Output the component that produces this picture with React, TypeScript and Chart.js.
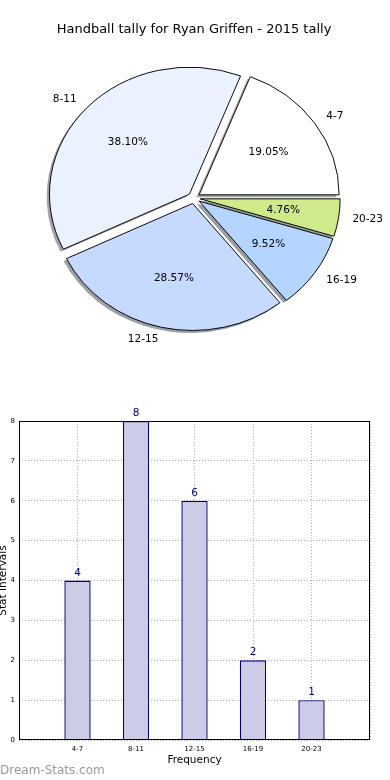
import React, { useEffect, useRef } from 'react';
import { Chart, registerables } from 'chart.js';

Chart.register(...registerables);

const FONT = 'DejaVu Sans';
const TITLE = 'Handball tally for Ryan Griffen - 2015 tally';
const categories = ['4-7', '8-11', '12-15', '16-19', '20-23'];
const counts = [4, 8, 6, 2, 1];
const sliceColors = ['#ffffff', '#eaf2ff', '#c6d9fe', '#b3d5ff', '#cfea8a'];
const yMin = 0;
const yMax = 8;
const yStep = 1;
const xTitle = 'Frequency';
const yTitle = 'Stat Intervals';
const watermark = 'Dream-Stats.com';

const PIE_KY = 127 / 140;
const EXPLODE = 6.2;

function shadowColor(hex: string) {
  const r = parseInt(hex.slice(1, 3), 16);
  const g = parseInt(hex.slice(3, 5), 16);
  const b = parseInt(hex.slice(5, 7), 16);
  return `rgba(${Math.round(r * 0.3)},${Math.round(g * 0.3)},${Math.round(b * 0.3)},0.5)`;
}

const pieDraw = {
  id: 'pieDraw',
  beforeDatasetDraw(chart: any, args: any) {
    const ctx: CanvasRenderingContext2D = chart.ctx;
    const arcs = args.meta.data;
    if (!arcs.length) return false;
    const cx = arcs[0].x;
    const cy = arcs[0].y;
    const setT = () => {
      ctx.translate(cx, cy);
      ctx.scale(1, -PIE_KY);
      ctx.translate(-cx, -cy);
    };
    ctx.save();
    ctx.translate(-2.8, 2.5);
    setT();
    arcs.forEach((arc: any, i: number) => {
      const mid = (arc.startAngle + arc.endAngle) / 2;
      const ox = EXPLODE * Math.cos(mid);
      const oy = EXPLODE * Math.sin(mid);
      ctx.beginPath();
      ctx.moveTo(arc.x + ox, arc.y + oy);
      ctx.arc(arc.x + ox, arc.y + oy, arc.outerRadius, arc.startAngle, arc.endAngle);
      ctx.closePath();
      ctx.fillStyle = shadowColor(sliceColors[i]);
      ctx.fill();
    });
    ctx.restore();
    arcs.forEach((arc: any) => {
      const mid = (arc.startAngle + arc.endAngle) / 2;
      ctx.save();
      setT();
      ctx.translate(EXPLODE * Math.cos(mid), EXPLODE * Math.sin(mid));
      arc.draw(ctx);
      ctx.restore();
    });
    return false;
  },
  afterDraw(chart: any) {
    const ctx: CanvasRenderingContext2D = chart.ctx;
    const meta = chart.getDatasetMeta(0);
    const total = counts.reduce((a, b) => a + b, 0);
    ctx.save();
    ctx.font = `10.5px "${FONT}"`;
    ctx.fillStyle = '#000';
    ctx.textBaseline = 'middle';
    meta.data.forEach((arc: any, i: number) => {
      const mid = (arc.startAngle + arc.endAngle) / 2;
      const c = Math.cos(mid);
      const s = -Math.sin(mid) * PIE_KY;
      const ex = arc.x + EXPLODE * c;
      const ey = arc.y + EXPLODE * s;
      const r = arc.outerRadius;
      ctx.textAlign = c > 0 ? 'left' : 'right';
      ctx.fillText(categories[i], ex + 1.1 * r * c, ey + 1.1 * r * s);
      ctx.textAlign = 'center';
      ctx.fillText(((counts[i] / total) * 100).toFixed(2) + '%', ex + 0.6 * r * c, ey + 0.6 * r * s);
    });
    ctx.restore();
  },
};

const barExtras = {
  id: 'barExtras',
  afterDatasetsDraw(chart: any) {
    const ctx: CanvasRenderingContext2D = chart.ctx;
    const meta = chart.getDatasetMeta(0);
    const vals = chart.data.datasets[0].data;
    ctx.save();
    ctx.font = `10.5px "${FONT}"`;
    ctx.fillStyle = '#000080';
    ctx.textAlign = 'center';
    ctx.textBaseline = 'alphabetic';
    meta.data.forEach((bar: any, i: number) => {
      if (vals[i] == null) return;
      ctx.fillText(String(vals[i]), bar.x, bar.y - 5);
    });
    ctx.restore();
  },
  afterDraw(chart: any) {
    const { ctx, chartArea } = chart;
    ctx.save();
    ctx.strokeStyle = '#000';
    ctx.lineWidth = 1;
    ctx.setLineDash([]);
    const l = Math.round(chartArea.left) + 0.5;
    const t = Math.round(chartArea.top) + 0.5;
    const r = Math.round(chartArea.right) - 0.5;
    const b = Math.round(chartArea.bottom) - 0.5;
    ctx.strokeRect(l, t, r - l, b - t);
    ctx.restore();
  },
};

export default function App() {
  const pieRef = useRef<HTMLCanvasElement>(null);
  const barRef = useRef<HTMLCanvasElement>(null);

  useEffect(() => {
    Chart.defaults.font.family = FONT;
    Chart.defaults.color = '#000';

    const pie = new Chart(pieRef.current as HTMLCanvasElement, {
      type: 'pie',
      data: {
        labels: categories,
        datasets: [
          {
            data: counts,
            backgroundColor: sliceColors,
            borderColor: '#000000',
            borderWidth: 1,
            radius: 140,
          } as any,
        ],
      },
      options: {
        animation: false,
        responsive: false,
        devicePixelRatio: 1,
        events: [],
        rotation: 90,
        layout: { padding: { left: 44, right: 46, top: 0, bottom: 21.6 } },
        plugins: {
          legend: { display: false },
          tooltip: { enabled: false },
          title: {
            display: true,
            text: TITLE,
            color: '#000',
            font: { family: FONT, size: 13, weight: 'normal' },
            padding: { top: 22, bottom: 10 },
          },
        },
      },
      plugins: [pieDraw],
    });

    const padLabels = ['', ...categories, ''];
    const padCounts = [null, ...counts, null];
    const gridStyle = { color: '#b0b0b0', drawTicks: false, lineWidth: 1, offset: false };

    const bar = new Chart(barRef.current as HTMLCanvasElement, {
      type: 'bar',
      data: {
        labels: padLabels,
        datasets: [
          {
            data: padCounts,
            backgroundColor: '#ccccE6',
            borderColor: '#000080',
            borderWidth: 1.4,
            barPercentage: 0.45,
            categoryPercentage: 1,
          },
        ],
      },
      options: {
        animation: false,
        responsive: false,
        devicePixelRatio: 1,
        events: [],
        layout: { padding: { left: 0, right: 20, top: 31, bottom: 10 } },
        plugins: {
          legend: { display: false },
          tooltip: { enabled: false },
          title: { display: false },
        },
        scales: {
          x: {
            type: 'category',
            offset: false,
            z: 1,
            grid: gridStyle,
            border: { display: false, dash: [1, 2] },
            ticks: { font: { size: 7, family: FONT }, color: '#000', padding: 5, autoSkip: false, maxRotation: 0 },
            title: {
              display: true,
              text: xTitle,
              color: '#000',
              font: { size: 10.5, family: FONT },
              padding: { top: 0, bottom: 3.7 },
            },
            afterFit: (s: any) => {
              s.height = 30;
            },
          },
          y: {
            min: yMin,
            max: yMax,
            z: 1,
            grid: gridStyle,
            border: { display: false, dash: [1, 2] },
            ticks: { stepSize: yStep, font: { size: 7, family: FONT }, color: '#000', padding: 4 },
            title: {
              display: true,
              text: yTitle,
              color: '#000',
              font: { size: 10.5, family: FONT },
              padding: { top: -3, bottom: 0 },
            },
            afterFit: (s: any) => {
              s.width = 19;
            },
          },
        },
      } as any,
      plugins: [barExtras],
    });

    return () => {
      pie.destroy();
      bar.destroy();
    };
  }, []);

  return (
    <div
      style={{
        position: 'fixed',
        left: 0,
        top: 0,
        width: 390,
        height: 780,
        background: '#fff',
        overflow: 'hidden',
      }}
    >
      <canvas ref={pieRef} width={390} height={370} style={{ position: 'absolute', left: 0, top: 0 }} />
      <canvas ref={barRef} width={390} height={390} style={{ position: 'absolute', left: 0, top: 390 }} />
      <div
        style={{
          position: 'absolute',
          left: 0,
          top: 763,
          font: `12px "${FONT}"`,
          lineHeight: '14px',
          color: '#999',
          whiteSpace: 'nowrap',
        }}
      >
        {watermark}
      </div>
    </div>
  );
}
